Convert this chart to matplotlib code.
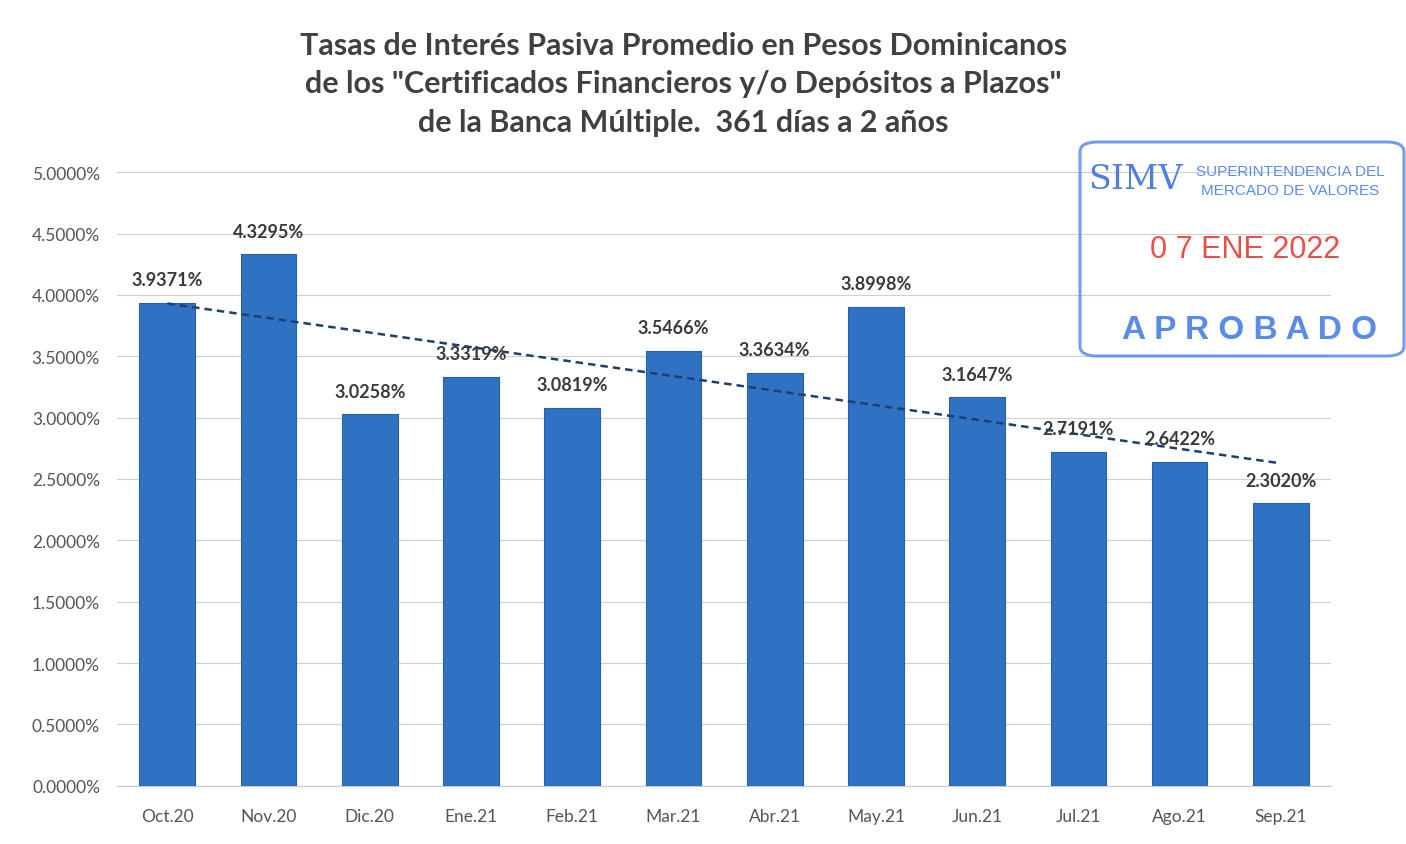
import matplotlib.pyplot as plt
import numpy as np
from matplotlib.patches import FancyBboxPatch

# Meses y tasas (%)
meses = ['Oct.20', 'Nov.20', 'Dic.20', 'Ene.21', 'Feb.21', 'Mar.21',
         'Abr.21', 'May.21', 'Jun.21', 'Jul.21', 'Ago.21', 'Sep.21']
tasas = [3.9371, 4.3295, 3.0258, 3.3319, 3.0819, 3.5466,
         3.3634, 3.8998, 3.1647, 2.7191, 2.6422, 2.3020]

fig = plt.figure(figsize=(14.06, 8.45), dpi=100)
ax = fig.add_axes([0.083, 0.069, 0.864, 0.726])

x = np.arange(len(meses))
ax.bar(x, tasas, width=0.55, color='#2F72C4', edgecolor='#285FA6', linewidth=0.8, zorder=3)

# linea de tendencia (lineal, como en Excel)
m, b = np.polyfit(x, tasas, 1)
ax.plot(x, m * x + b, ls=(0, (3, 2)), color='#1F3F6E', lw=1.8, zorder=4)

for xi, v in zip(x, tasas):
    ax.text(xi, v + 0.12, f'{v:.4f}%', ha='center', va='bottom',
            fontsize=13, fontweight='bold', color='#3A3A3A', family='Lato', zorder=5)

ax.set_xlim(-0.5, len(meses) - 0.5)
ax.set_ylim(0, 5)
ax.set_yticks(np.arange(0, 5.01, 0.5))
ax.set_yticklabels([f'{t:.4f}%' for t in np.arange(0, 5.01, 0.5)])
ax.set_xticks(x)
ax.set_xticklabels(meses)
ax.tick_params(axis='y', length=0, labelsize=12.5, labelcolor='#555555', pad=12)
ax.tick_params(axis='x', length=0, labelsize=12.5, labelcolor='#555555', pad=16)
for lab in ax.get_xticklabels() + ax.get_yticklabels():
    lab.set_family('Lato')
ax.grid(axis='y', color='#D0D0D0', lw=0.8, zorder=0)
for s in ['top', 'right', 'left']:
    ax.spines[s].set_visible(False)
ax.spines['bottom'].set_color('#C8C8C8')

fig.text(0.486, 0.962, 'Tasas de Interés Pasiva Promedio en Pesos Dominicanos\n'
         'de los "Certificados Financieros y/o Depósitos a Plazos"\n'
         'de la Banca Múltiple.  361 días a 2 años',
         ha='center', va='top', fontsize=22, fontweight='bold', color='#404040',
         family='Lato', linespacing=1.45)

# sello de aprobacion
stamp = FancyBboxPatch((1080 / 1406, 1 - 357 / 845), 324 / 1406, 214 / 845,
                       boxstyle='round,pad=0,rounding_size=0.012',
                       transform=fig.transFigure, fill=False,
                       edgecolor='#5B8BE8', lw=2.2, alpha=0.85)
fig.patches.append(stamp)
fig.text(1088 / 1406, 1 - 180 / 845, 'SIMV', fontsize=24, family='DejaVu Serif',
         color='#4F7EE0', va='center', ha='left')
fig.text(1290 / 1406, 1 - 172 / 845, 'SUPERINTENDENCIA DEL', fontsize=11,
         family='Liberation Sans', color='#5B8BE8', va='center', ha='center')
fig.text(1290 / 1406, 1 - 191 / 845, 'MERCADO DE VALORES', fontsize=11,
         family='Liberation Sans', color='#5B8BE8', va='center', ha='center')
fig.text(1245 / 1406, 1 - 250 / 845, '0 7 ENE 2022', fontsize=22,
         family='Liberation Sans', color='#E8504A', va='center', ha='center')
fig.text(1249 / 1406, 1 - 331 / 845, 'A P R O B A D O', fontsize=24, fontweight='bold',
         family='Liberation Sans', color='#5B8BE8', va='center', ha='center')

fig.savefig('out.png', dpi=100, facecolor='white')
